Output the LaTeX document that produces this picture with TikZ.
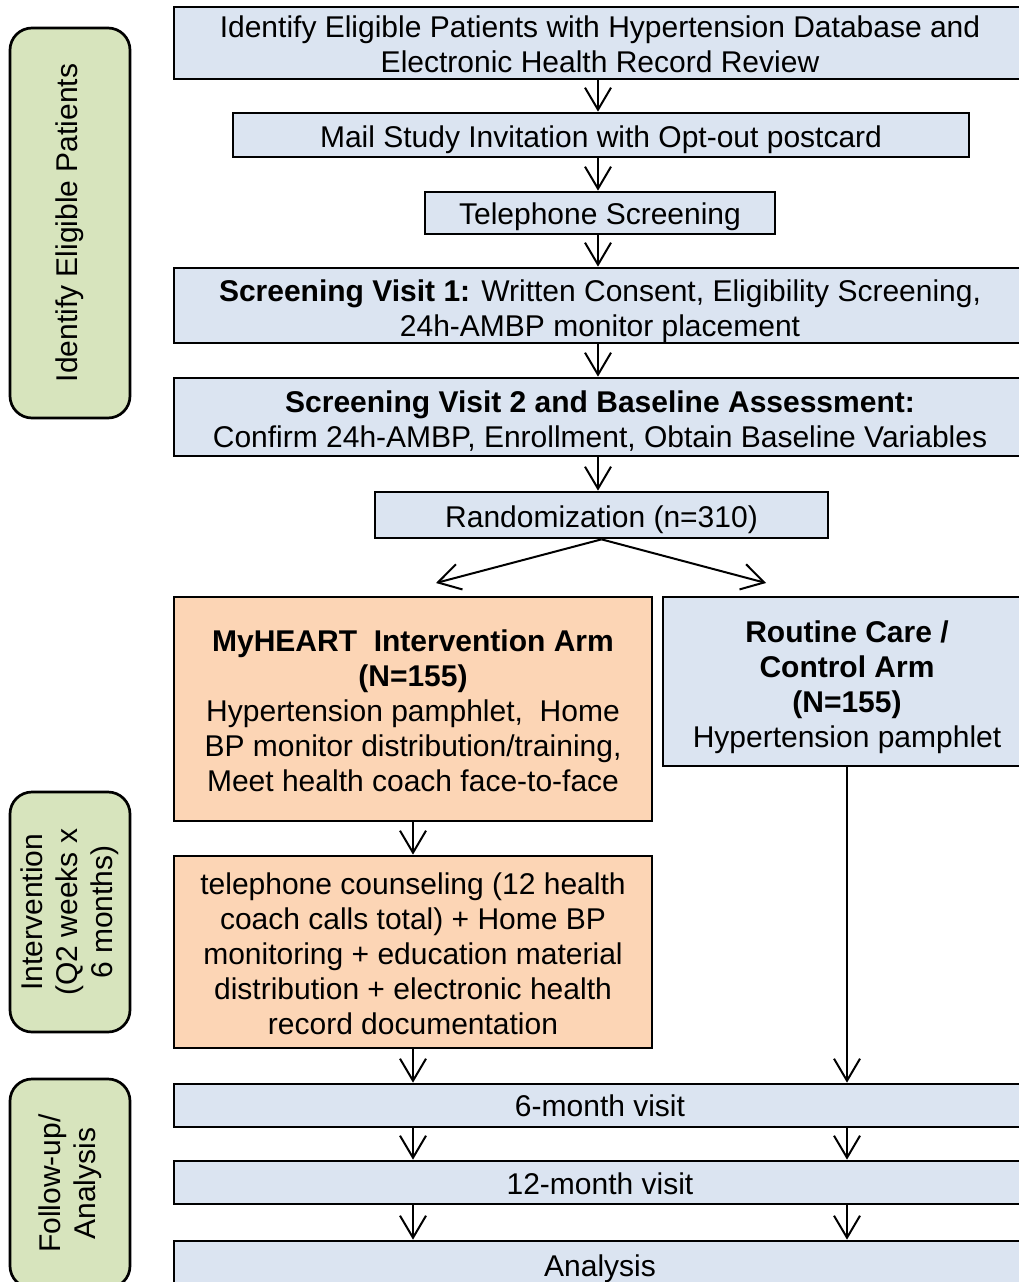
\documentclass[tikz,border=0pt]{standalone}
\usepackage{fontspec}
\setmainfont{Liberation Sans}
\usetikzlibrary{arrows.meta}
\definecolor{boxblue}{RGB}{219,228,241}
\definecolor{boxorange}{RGB}{252,213,181}
\definecolor{boxgreen}{RGB}{215,228,189}
\newcommand{\dn}[1]{\rule{0pt}{\dimexpr 22.5pt+#1pt+#1pt\relax}}
\begin{document}
\begin{tikzpicture}[x=1pt,y=-1pt,
  base/.style={draw=black,line width=2.7pt,align=center,inner sep=0pt,
    font=\fontsize{30}{35}\selectfont},
  bluebox/.style={base,fill=boxblue},
  orangebox/.style={base,fill=boxorange},
  greenbox/.style={base,fill=boxgreen,rounded corners=22pt,rotate=90,minimum height=120pt},
  arr/.style={line width=2pt,-{Straight Barb[length=22pt,width=26pt,line width=2pt]}}
]
\useasboundingbox (0,0) rectangle (1019,1282);
\clip (0,0) rectangle (1019,1282);

% phase labels
\node[greenbox,minimum width=390pt] (g1) at (70,223) {Identify Eligible Patients};
\node[greenbox,minimum width=240pt] (g2) at (70,912) {Intervention\\(Q2 weeks x\\6 months)};
\node[greenbox,minimum width=209pt] (g3) at (70,1183.5) {Follow-up/\\Analysis};

% main flow
\node[bluebox,minimum width=852pt,minimum height=72pt] (b1) at (600,43)
  {\dn{1}Identify Eligible Patients with Hypertension Database and\\Electronic Health Record Review};
\node[bluebox,minimum width=736pt,minimum height=44pt] (b2) at (601,135)
  {\dn{4}Mail Study Invitation with Opt-out postcard};
\node[bluebox,minimum width=350pt,minimum height=42pt] (b3) at (600,213)
  {\dn{3}Telephone Screening};
\node[bluebox,minimum width=852pt,minimum height=75pt] (b4) at (600,305.5)
  {\dn{5}\textbf{Screening Visit 1:} Written Consent, Eligibility Screening,\\24h-AMBP monitor placement};
\node[bluebox,minimum width=852pt,minimum height=78pt] (b5) at (600,417)
  {\dn{4}\textbf{Screening Visit 2 and Baseline Assessment:}\\Confirm 24h-AMBP, Enrollment, Obtain Baseline Variables};
\node[bluebox,minimum width=453pt,minimum height=46pt] (b6) at (601.5,515)
  {\dn{4}Randomization (n=310)};

\node[orangebox,minimum width=478pt,minimum height=224pt] (b7) at (413,709)
  {\dn{1}\textbf{MyHEART\ \ Intervention Arm}\\\textbf{(N=155)}\\Hypertension pamphlet,\ \ Home\\BP monitor distribution/training,\\Meet health coach face-to-face};
\node[bluebox,minimum width=368pt,minimum height=169pt] (b8) at (847,681.5)
  {\dn{5}\textbf{Routine Care /}\\\textbf{Control Arm}\\\textbf{(N=155)}\\Hypertension pamphlet};
\node[orangebox,minimum width=478pt,minimum height=192pt] (b9) at (413,952)
  {\dn{1}telephone counseling (12 health\\coach calls total) + Home BP\\monitoring + education material\\distribution + electronic health\\record documentation};

\node[bluebox,minimum width=852pt,minimum height=43pt] (b10) at (600,1105.5) {\dn{0}6-month visit};
\node[bluebox,minimum width=852pt,minimum height=43pt] (b11) at (600,1182.5) {\dn{1}12-month visit};
\node[bluebox,minimum width=852pt,minimum height=48pt] (b12) at (600,1265) {\dn{3}Analysis};

% connectors
\coordinate (ax) at (598,0);
\draw[arr] (ax |- b1.south) -- (ax |- b2.north);
\draw[arr] (ax |- b2.south) -- (ax |- b3.north);
\draw[arr] (ax |- b3.south) -- (ax |- b4.north);
\draw[arr] (ax |- b4.south) -- (ax |- b5.north);
\draw[arr] (ax |- b5.south) -- (ax |- b6.north);

\coordinate (dl) at (436,583);
\coordinate (dr) at (766,583);
\draw[arr] (b6.south) -- (dl);
\draw[arr] (b6.south) -- (dr);

\draw[arr] (b7.south) -- (b9.north);
\draw[arr] (b9.south) -- (b9.south |- b10.north);
\draw[arr] (b8.south) -- (b8.south |- b10.north);

\draw[arr] (b9.south |- b10.south) -- (b9.south |- b11.north);
\draw[arr] (b8.south |- b10.south) -- (b8.south |- b11.north);
\draw[arr] (b9.south |- b11.south) -- (b9.south |- b12.north);
\draw[arr] (b8.south |- b11.south) -- (b8.south |- b12.north);
\end{tikzpicture}
\end{document}
